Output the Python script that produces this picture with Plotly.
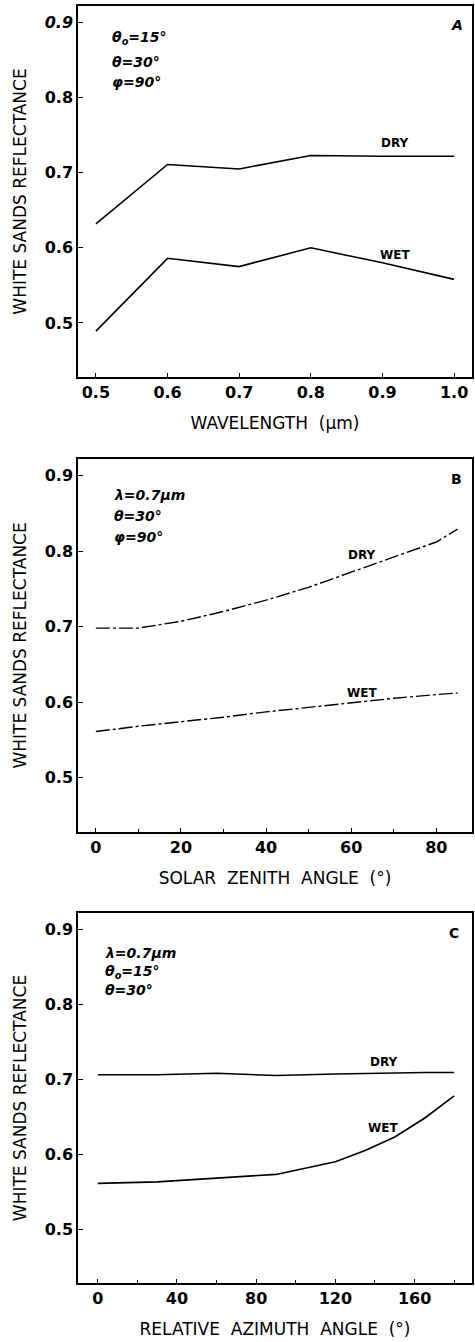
import plotly.graph_objects as go

# Panel A: reflectance vs wavelength
wl = [0.5, 0.6, 0.7, 0.8, 0.9, 1.0]
a_dry = [0.632, 0.711, 0.705, 0.723, 0.722, 0.722]
a_wet = [0.489, 0.586, 0.575, 0.600, 0.580, 0.558]

# Panel B: reflectance vs solar zenith angle
sza = [0, 10, 20, 30, 40, 50, 60, 70, 80, 85]
b_dry = [0.698, 0.698, 0.707, 0.720, 0.735, 0.752, 0.772, 0.792, 0.812, 0.829]
b_wet = [0.561, 0.568, 0.574, 0.580, 0.587, 0.593, 0.599, 0.605, 0.610, 0.612]

# Panel C: reflectance vs relative azimuth angle
raa = [0, 30, 60, 90, 120, 135, 150, 165, 180]
c_dry = [0.706, 0.706, 0.708, 0.705, 0.707, 0.708, 0.708, 0.709, 0.709]
c_wet = [0.561, 0.563, 0.568, 0.573, 0.590, 0.605, 0.623, 0.648, 0.678]

y_ticks = [0.5, 0.6, 0.7, 0.8, 0.9]
y_ticktext = ["0.5", "0.6", "0.7", "0.8", "0.9"]
a_xticks = [0.5, 0.6, 0.7, 0.8, 0.9, 1.0]
b_xticks = [0, 20, 40, 60, 80]
c_xticks = [0, 40, 80, 120, 160]

FONT = "DejaVu Sans"
line_solid = dict(color="black", width=1.6)
line_dash = dict(color="black", width=1.4, dash="14px,3px,3px,3px")

fig = go.Figure()
fig.add_trace(go.Scatter(x=wl, y=a_dry, mode="lines", line=line_solid, xaxis="x", yaxis="y", name="DRY"))
fig.add_trace(go.Scatter(x=wl, y=a_wet, mode="lines", line=line_solid, xaxis="x", yaxis="y", name="WET"))
fig.add_trace(go.Scatter(x=sza, y=b_dry, mode="lines", line=line_dash, xaxis="x2", yaxis="y2", name="DRY"))
fig.add_trace(go.Scatter(x=sza, y=b_wet, mode="lines", line=line_dash, xaxis="x2", yaxis="y2", name="WET"))
fig.add_trace(go.Scatter(x=raa, y=c_dry, mode="lines", line=line_solid, xaxis="x3", yaxis="y3", name="DRY"))
fig.add_trace(go.Scatter(x=raa, y=c_wet, mode="lines", line=line_solid, xaxis="x3", yaxis="y3", name="WET"))

tickfont = dict(family=FONT, size=16, color="black", weight="bold")
titlefont = dict(family=FONT, size=17, color="black")

def xax(rng, ticks, fmt, title, anchor, minor=None):
    d = dict(range=rng, tickvals=ticks, tickformat=fmt, showgrid=False, zeroline=False,
             showline=True, linecolor="black", linewidth=1.5, mirror=True,
             ticks="inside", ticklen=4, tickcolor="black", tickfont=tickfont,
             title=dict(text=title, font=titlefont, standoff=16), anchor=anchor)
    if minor:
        d["minor"] = dict(tickvals=minor, ticks="inside", ticklen=3, tickcolor="black")
    return d

def yax(domain, anchor, ticktext):
    return dict(domain=domain, range=[0.428, 0.922], tickvals=y_ticks, ticktext=ticktext,
                showgrid=False, zeroline=False, showline=True, linecolor="black", linewidth=1.5,
                mirror=True, ticks="inside", ticklen=5, tickcolor="black", tickfont=tickfont,
                title=dict(text="WHITE&nbsp;SANDS&nbsp;REFLECTANCE", font=titlefont, standoff=14),
                anchor=anchor)

a_ticktext = y_ticktext[:-1] + ["<i>0.9</i>"]
SP = "&nbsp;&nbsp;"

fig.update_layout(
    width=475, height=1342,
    margin=dict(l=78, r=1, t=6, b=59),
    paper_bgcolor="white", plot_bgcolor="white",
    showlegend=False,
    xaxis=xax([0.475, 1.025], a_xticks, ".1f", "WAVELENGTH" + SP + "(μm)", "y"),
    yaxis=yax([0.7095, 1.0], "x", a_ticktext),
    xaxis2=xax([-4.2, 88.4], b_xticks, "d", SP.join(["SOLAR", "ZENITH", "ANGLE", "(°)"]), "y2",
               minor=[10, 30, 50, 70]),
    yaxis2=yax([0.3532, 0.6453], "x2", y_ticktext),
    xaxis3=xax([-10, 189], c_xticks, "d", SP.join(["RELATIVE", "AZIMUTH", "ANGLE", "(°)"]), "y3",
               minor=[20, 60, 100, 140, 180]),
    yaxis3=yax([0.0, 0.2897], "x3", y_ticktext),
)

lblfont = dict(family=FONT, size=12, color="black", weight="bold")
notefont = dict(family=FONT, size=14, color="black", weight="bold", style="italic")
letterfont = dict(family=FONT, size=14, color="black", weight="bold")

def note(x, y, text, xref, yref, font=notefont, xanchor="left"):
    fig.add_annotation(x=x, y=y, xref=xref, yref=yref, text=text, showarrow=False,
                       font=font, xanchor=xanchor, yanchor="middle")

# Panel A labels
note(0.918, 0.739, "DRY", "x", "y", lblfont, "center")
note(0.918, 0.591, "WET", "x", "y", lblfont, "center")
note(0.519, 0.880, "θ<sub>o</sub>=15°", "x", "y")
note(0.519, 0.848, "θ=30°", "x", "y")
note(0.519, 0.821, "φ=90°", "x", "y")
note(1.004, 0.897, "<i>A</i>", "x", "y", letterfont, "center")

# Panel B labels
note(62.6, 0.795, "DRY", "x2", "y2", lblfont, "center")
note(62.6, 0.612, "WET", "x2", "y2", lblfont, "center")
note(3.7, 0.874, "λ=0.7μm", "x2", "y2")
note(3.7, 0.846, "θ=30°", "x2", "y2")
note(3.7, 0.819, "φ=90°", "x2", "y2")
note(84.7, 0.896, "B", "x2", "y2", letterfont, "center")

# Panel C labels
note(144.5, 0.723, "DRY", "x3", "y3", lblfont, "center")
note(144, 0.635, "WET", "x3", "y3", lblfont, "center")
note(2.5, 0.869, "λ=0.7μm", "x3", "y3")
note(2.5, 0.843, "θ<sub>o</sub>=15°", "x3", "y3")
note(2.5, 0.819, "θ=30°", "x3", "y3")
note(180, 0.896, "C", "x3", "y3", letterfont, "center")

fig.write_html("out.html")
